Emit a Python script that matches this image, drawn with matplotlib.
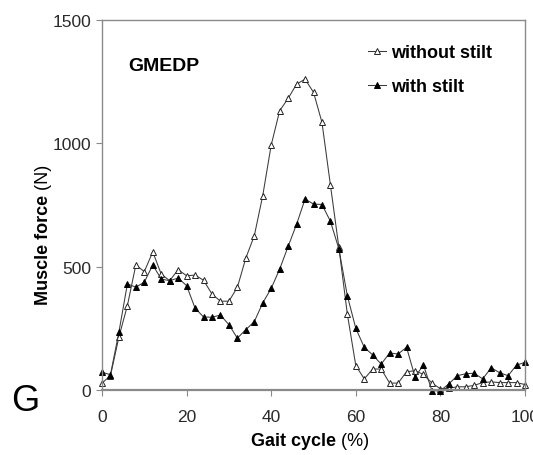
import numpy as np
import matplotlib
matplotlib.use('Agg')
import matplotlib.pyplot as plt

# 字体：类似原图的无衬线字体
plt.rcParams['font.family'] = ['Liberation Sans Narrow', 'Liberation Sans', 'DejaVu Sans']

# 数据（从图上读取，步态周期每 2%）
gait = list(range(0, 101, 2))
without_stilt = [28, 58, 215, 342, 507, 480, 560, 470, 443, 488,
                 463, 466, 445, 389, 360, 360, 416, 535, 625, 788,
                 993, 1132, 1182, 1240, 1260, 1207, 1085, 831, 578, 308,
                 99, 45, 85, 85, 28, 28, 74, 78, 63, 28,
                 5, 7, 13, 13, 19, 30, 33, 30, 30, 30, 22]
with_stilt = [72, 62, 235, 430, 417, 437, 507, 450, 443, 454,
              423, 332, 296, 295, 304, 265, 210, 245, 277, 353,
              412, 490, 582, 672, 774, 754, 752, 684, 572, 382,
              250, 173, 142, 105, 150, 146, 173, 53, 101, -3,
              -3, 25, 58, 66, 68, 45, 90, 70, 58, 101, 112]

x_ticks = [0, 20, 40, 60, 80, 100]
y_ticks = [0, 500, 1000, 1500]

fig = plt.figure(figsize=(5.33, 4.56), dpi=100)
ax = fig.add_axes([102/533, 1-391/456, 423/533, 370/456])

gray = '#8a8a8a'
ax.plot(gait, without_stilt, color='#3a3a3a', lw=0.75, marker='^', ms=5,
        mfc='white', mec='#222222', mew=0.7, label='without stilt', clip_on=False)
ax.plot(gait, with_stilt, color='#3a3a3a', lw=0.75, marker='^', ms=5,
        mfc='black', mec='black', mew=0.7, label='with stilt', clip_on=False)

ax.set_xlim(0, 100)
ax.set_ylim(0, 1500)
ax.set_xticks(x_ticks)
ax.set_yticks(y_ticks)
ax.tick_params(axis='both', direction='out', length=4, width=0.8, color=gray,
               labelsize=12.5, labelcolor='#2a2a2a')
ax.tick_params(axis='x', pad=10)
ax.tick_params(axis='y', pad=4)
for s in ax.spines.values():
    s.set_color(gray)
    s.set_linewidth(1.0)
ax.spines['bottom'].set_linewidth(1.6)

# 坐标轴标题：粗体部分 + 常规部分
xl = fig.text(336/533, 1-442/456, 'Gait cycle', fontsize=13, fontweight='bold',
              ha='right', va='center')
ax.annotate(' (%)', xy=(1, 0.5), xycoords=xl, fontsize=13, va='center', ha='left')
yl = fig.text(43/533, 1-305/456, 'Muscle force', fontsize=13, fontweight='bold',
              rotation=90, ha='center', va='bottom')
ax.annotate(' (N)', xy=(0.5, 1), xycoords=yl, fontsize=13, rotation=90,
            va='bottom', ha='center')

ax.text(0.062, 0.877, 'GMEDP', transform=ax.transAxes, fontsize=14,
        fontweight='bold', va='center', ha='left')
fig.text(25/533, 1-402/456, 'G', fontsize=26, va='center', ha='center')

ax.legend(loc='upper left', bbox_to_anchor=(0.6, 0.969), frameon=False,
          prop={'weight': 'bold', 'size': 13}, handlelength=1.0,
          handletextpad=0.25, labelspacing=0.95, markerscale=0.75,
          borderpad=0.2)

fig.savefig('out.png', dpi=100)
